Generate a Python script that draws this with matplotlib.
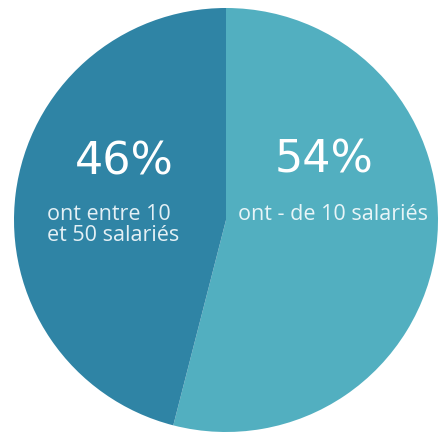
import matplotlib.pyplot as plt

# Pie data
shares = [54, 46]
colors = ["#52afc0", "#2f84a5"]
pct_labels = ["54%", "46%"]
descriptions = ["ont - de 10 salariés", "ont entre 10\net 50 salariés"]

W, H = 446, 438
fig = plt.figure(figsize=(W / 100, H / 100), dpi=100)
ax = fig.add_axes([0, 0, 1, 1])

ax.pie(shares, colors=colors, startangle=90, counterclock=False,
       center=(226, H - 220), radius=212, frame=True,
       wedgeprops=dict(linewidth=0))

ax.set_xlim(0, W)
ax.set_ylim(0, H)
ax.set_aspect("equal")
ax.axis("off")

# percentage labels (handwritten look in the original)
ax.text(324, H - 160, pct_labels[0], color="white", fontsize=32,
        family="DejaVu Sans", ha="center", va="center")
ax.text(124, H - 162, pct_labels[1], color="white", fontsize=32,
        family="DejaVu Sans", ha="center", va="center")

# descriptions
ax.text(333, H - 214, descriptions[0], color="#e8f5f8", fontsize=15.5,
        family="Open Sans", ha="center", va="center")
ax.text(47, H - 225, descriptions[1], color="#e4f0f5", fontsize=15.5,
        family="Open Sans", ha="left", va="center", linespacing=1.05)

fig.savefig("out.png", dpi=100)
